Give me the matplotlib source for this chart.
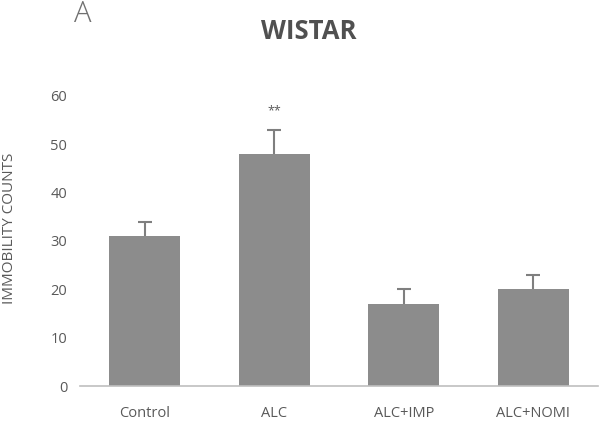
import matplotlib
matplotlib.use("Agg")
import matplotlib.pyplot as plt
import numpy as np

groups = ["Control", "ALC", "ALC+IMP", "ALC+NOMI"]
means = [31, 48, 17, 20]
errors = [3, 5, 3, 3]
marks = ["", "**", "", ""]

plt.rcParams["font.family"] = ["Open Sans", "DejaVu Sans"]

fig = plt.figure(figsize=(6, 4.22), dpi=100)
ax = fig.add_axes([0.133, 0.085, 0.864, 0.688])

x = np.arange(len(groups))
bar_color = "#8c8c8c"
# error bars drawn behind the bars so only the upper half shows
ax.errorbar(x, means, yerr=errors, fmt="none",
            ecolor="#7f7f7f", elinewidth=1.5, capsize=5, capthick=1.5, zorder=1)
ax.bar(x, means, width=0.55, color=bar_color, zorder=2)
for xi, m, e, s in zip(x, means, errors, marks):
    if s:
        ax.text(xi, m + e + 2.5, s, ha="center", va="bottom", fontsize=9, color="#595959")

ax.set_xlim(-0.5, 3.5)
ax.set_ylim(0, 60)
ax.set_yticks(range(0, 61, 10))
ax.set_xticks(x)
ax.set_xticklabels(groups)
for side in ["top", "right", "left"]:
    ax.spines[side].set_visible(False)
ax.spines["bottom"].set_color("#bfbfbf")
ax.spines["bottom"].set_linewidth(1.2)
ax.spines["bottom"].set_zorder(3)
ax.tick_params(axis="both", length=0, colors="#595959", labelsize=10.5)
ax.tick_params(axis="x", pad=14)
ax.tick_params(axis="y", pad=9)
ax.set_ylabel("IMMOBILITY COUNTS", fontsize=11, color="#595959")
ax.yaxis.set_label_coords(-0.122, 0.545)

fig.text(0.515, 0.925, "WISTAR", ha="center", va="center", fontsize=18.5,
         fontweight="bold", color="#505050")
fig.text(0.123, 0.966, "A", ha="left", va="center", fontsize=21,
         fontweight="light", color="#707070")

fig.savefig("out.png", dpi=100)
